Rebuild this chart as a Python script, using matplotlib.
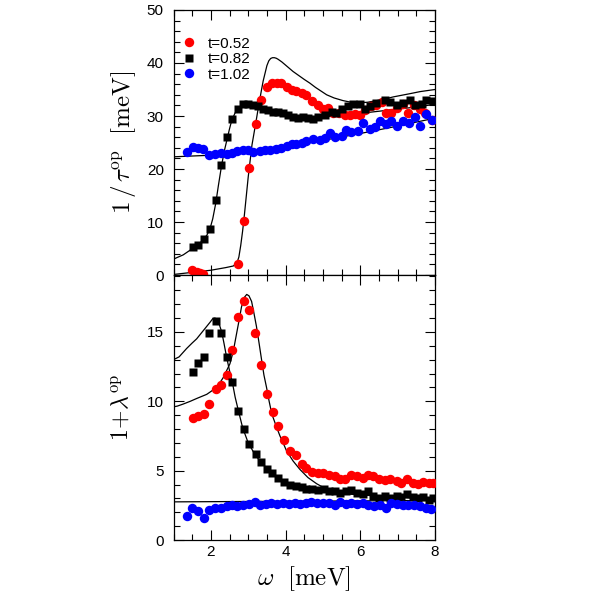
import numpy as np
import matplotlib
matplotlib.use("Agg")
import matplotlib.pyplot as plt
from matplotlib.ticker import MultipleLocator

plt.rcParams['font.family'] = ['Liberation Sans', 'DejaVu Sans']
plt.rcParams['mathtext.fontset'] = 'cm'

# ---------- donnees : panneau du haut, 1/tau^op ----------
x52_top = [1.49, 1.62, 1.72, 1.80, 2.73, 2.88, 3.03, 3.20, 3.34, 3.49, 3.63, 3.76, 3.89,
           4.03, 4.16, 4.29, 4.43, 4.56, 4.71, 4.86, 5.00, 5.14, 5.27, 5.42, 5.59, 5.72,
           5.85, 5.99, 6.12, 6.28, 6.43, 6.57, 6.70, 6.83, 6.99, 7.14, 7.28, 7.43, 7.59,
           7.74, 7.92]
y52_top = [1.0, 0.6, 0.3, 0.1, 2.0, 10.2, 20.1, 28.4, 33.1, 35.4, 36.2, 36.3, 36.3,
           35.4, 34.9, 34.8, 34.4, 34.0, 32.9, 32.0, 31.3, 31.6, 30.6, 30.6, 30.2, 30.2,
           30.3, 30.2, 31.1, 31.9, 32.1, 32.7, 30.5, 30.5, 31.6, 32.3, 30.6, 32.0, 31.3,
           30.5, 29.2]

x82_top = [1.51, 1.66, 1.82, 1.97, 2.13, 2.27, 2.44, 2.57, 2.73, 2.87, 3.00, 3.13, 3.27,
           3.40, 3.53, 3.67, 3.80, 3.94, 4.07, 4.20, 4.34, 4.47, 4.60, 4.74, 4.87, 5.05,
           5.23, 5.36, 5.50, 5.67, 5.81, 5.99, 6.12, 6.25, 6.43, 6.65, 6.79, 6.97, 7.14,
           7.32, 7.46, 7.64, 7.77, 7.95]
y82_top = [5.2, 5.6, 6.7, 8.7, 14.1, 20.7, 26.0, 29.4, 31.3, 32.2, 32.2, 32.1, 31.8,
           31.4, 31.1, 30.8, 30.8, 30.5, 30.2, 29.9, 29.7, 29.9, 29.6, 29.4, 29.9, 30.1,
           30.8, 30.5, 31.4, 31.8, 32.3, 32.3, 31.3, 31.8, 32.4, 33.1, 32.7, 32.1, 32.4,
           33.1, 32.1, 32.3, 33.0, 32.9]

x102_top = [1.35, 1.51, 1.66, 1.80, 1.96, 2.11, 2.26, 2.42, 2.56, 2.69, 2.85, 3.00, 3.13,
            3.31, 3.45, 3.58, 3.74, 3.89, 4.03, 4.16, 4.29, 4.43, 4.56, 4.74, 4.92, 5.05,
            5.18, 5.32, 5.50, 5.63, 5.76, 5.94, 6.07, 6.25, 6.39, 6.52, 6.68, 6.83, 6.98,
            7.14, 7.30, 7.46, 7.61, 7.75, 7.91]
y102_top = [23.2, 24.2, 23.9, 23.8, 22.6, 22.9, 23.1, 22.8, 23.1, 23.4, 23.5, 23.6, 23.3,
            23.4, 23.6, 23.6, 23.7, 23.9, 24.3, 24.7, 24.8, 24.9, 25.3, 25.6, 25.5, 25.8,
            26.7, 26.1, 26.2, 27.4, 27.0, 27.2, 28.7, 27.5, 27.9, 29.1, 28.5, 29.1, 28.1,
            29.1, 28.6, 29.9, 28.1, 30.3, 29.2]

# courbes theoriques (haut)
fx52_top = [1.0, 1.5, 2.0, 2.4, 2.6, 2.7, 2.75, 2.8, 2.85, 2.9, 3.0, 3.1, 3.2, 3.3, 3.4,
            3.5, 3.55, 3.6, 3.65, 3.7, 3.75, 3.8, 3.9, 4.0, 4.1, 4.2, 4.3, 4.4, 4.5, 4.65,
            4.8, 4.95, 5.1, 5.3, 5.54, 5.75, 6.0, 6.2, 6.43, 6.65, 6.88, 7.1, 7.32, 7.6, 8.0]
fy52_top = [0.1, 0.5, 0.9, 1.4, 1.7, 2.3, 3.4, 5.6, 8.3, 11.5, 18.5, 24.5, 28.6, 32.8, 36.6,
            39.5, 40.4, 40.85, 41.0, 41.0, 40.9, 40.7, 40.2, 39.6, 39.0, 38.4, 37.9, 37.4, 36.9, 36.2,
            35.4, 34.7, 34.0, 33.4, 32.9, 32.6, 32.5, 32.6, 32.9, 33.2, 33.6, 33.9, 34.2, 34.6, 35.0]

fx82_top = [1.0, 1.26, 1.51, 1.65, 1.8, 1.9, 1.98, 2.05, 2.13, 2.2, 2.29, 2.37, 2.44, 2.5,
            2.56, 2.65, 2.73, 2.85, 2.96, 3.07, 3.18, 3.35, 3.5, 3.75, 4.0, 4.25, 4.5, 4.75,
            5.0, 5.5, 6.0, 6.5, 7.0, 7.5, 8.0]
fy82_top = [3.0, 3.8, 5.0, 5.7, 6.6, 7.6, 8.8, 10.6, 13.5, 16.8, 20.8, 23.7, 25.8, 27.6,
            29.2, 30.6, 31.3, 31.9, 32.1, 32.0, 31.8, 31.4, 31.0, 30.5, 30.0, 29.7, 29.6, 29.7,
            29.8, 30.1, 30.5, 30.9, 31.3, 31.7, 32.2]

fx102_top = [1.0, 2.0, 3.0, 4.0, 5.0, 6.0, 7.0, 8.0]
fy102_top = [22.3, 22.6, 23.2, 24.2, 25.4, 26.7, 28.1, 29.6]

# ---------- donnees : panneau du bas, 1 + lambda^op ----------
x52_bot = [1.51, 1.66, 1.82, 1.96, 2.13, 2.27, 2.44, 2.57, 2.73, 2.88, 3.03, 3.18, 3.33,
           3.49, 3.66, 3.80, 3.95, 4.11, 4.28, 4.43, 4.56, 4.72, 4.87, 5.00, 5.17, 5.32,
           5.45, 5.59, 5.75, 5.90, 6.06, 6.21, 6.34, 6.50, 6.65, 6.79, 6.97, 7.10, 7.25,
           7.40, 7.55, 7.68, 7.84, 7.95]
y52_bot = [8.8, 8.96, 9.1, 9.8, 10.9, 11.2, 11.9, 13.7, 16.1, 17.2, 16.6, 14.9, 12.6,
           10.5, 9.2, 8.2, 7.2, 6.4, 6.1, 5.5, 5.2, 4.9, 4.86, 4.8, 4.7, 4.6,
           4.4, 4.4, 4.7, 4.6, 4.5, 4.7, 4.6, 4.4, 4.3, 4.4, 4.25, 4.1, 4.4,
           4.1, 4.06, 4.2, 4.1, 4.1]

x82_bot = [1.51, 1.66, 1.82, 1.96, 2.13, 2.27, 2.42, 2.57, 2.73, 2.89, 3.03, 3.20, 3.34,
           3.49, 3.65, 3.80, 3.95, 4.11, 4.28, 4.43, 4.56, 4.72, 4.87, 5.03, 5.17, 5.32,
           5.45, 5.61, 5.76, 5.90, 6.06, 6.21, 6.34, 6.50, 6.65, 6.80, 6.97, 7.10, 7.25,
           7.40, 7.55, 7.68, 7.84, 7.95]
y82_bot = [12.1, 12.75, 13.2, 14.95, 15.8, 14.95, 13.2, 11.4, 9.3, 8.0, 6.9, 6.2, 5.6,
           5.1, 4.8, 4.5, 4.2, 4.0, 3.9, 3.8, 3.7, 3.65, 3.6, 3.7, 3.5, 3.5,
           3.4, 3.5, 3.6, 3.4, 3.3, 3.5, 3.2, 3.0, 3.2, 3.0, 3.2, 3.1, 3.3,
           3.1, 3.0, 3.1, 2.9, 3.0]

x102_bot = [1.35, 1.50, 1.65, 1.82, 1.96, 2.11, 2.26, 2.42, 2.56, 2.70, 2.87, 3.03, 3.18,
            3.31, 3.47, 3.62, 3.78, 3.94, 4.10, 4.25, 4.38, 4.54, 4.69, 4.85, 5.00, 5.17,
            5.32, 5.47, 5.61, 5.76, 5.91, 6.07, 6.21, 6.36, 6.52, 6.68, 6.83, 6.98, 7.13,
            7.28, 7.43, 7.59, 7.75, 7.90]
y102_bot = [1.7, 2.3, 2.1, 1.6, 2.15, 2.3, 2.3, 2.45, 2.55, 2.45, 2.5, 2.6, 2.75,
            2.55, 2.6, 2.7, 2.6, 2.7, 2.6, 2.7, 2.6, 2.7, 2.75, 2.7, 2.7, 2.7,
            2.55, 2.75, 2.6, 2.7, 2.6, 2.7, 2.5, 2.45, 2.55, 2.3, 2.7, 2.6, 2.55,
            2.5, 2.5, 2.45, 2.3, 2.2]

# courbes theoriques (bas)
fx52_bot = [1.0, 1.1, 1.26, 1.45, 1.62, 1.89, 2.16, 2.33, 2.51, 2.6, 2.69, 2.76, 2.82, 2.9,
            2.96, 3.02, 3.09, 3.15, 3.22, 3.29, 3.36, 3.42, 3.49, 3.56, 3.63, 3.75, 3.85,
            3.95, 4.03, 4.2, 4.38, 4.6, 4.83, 5.1, 5.5, 6.0, 6.5, 7.0, 7.5, 8.0]
fy52_bot = [9.6, 9.65, 9.8, 10.0, 10.2, 10.5, 11.0, 11.7, 12.7, 13.6, 14.9, 15.9, 16.8, 17.5,
            17.7, 17.6, 17.2, 16.4, 15.4, 14.2, 12.95, 11.9, 11.0, 10.0, 9.1, 8.2, 7.5,
            6.9, 6.4, 5.7, 5.1, 4.5, 4.06, 3.65, 3.45, 3.3, 3.2, 3.1, 3.02, 2.95]

fx82_bot = [1.0, 1.15, 1.35, 1.5, 1.62, 1.8, 1.98, 2.05, 2.11, 2.17, 2.23, 2.29, 2.35, 2.42,
            2.5, 2.58, 2.65, 2.73, 2.85, 3.0, 3.15, 3.31, 3.5, 3.67, 3.85, 4.03, 4.3, 4.56,
            5.1, 5.5, 6.0, 6.5, 7.0, 7.5, 8.0]
fy82_bot = [13.0, 13.2, 13.8, 14.2, 14.5, 15.1, 15.7, 15.95, 16.0, 15.85, 15.5, 15.0, 14.2, 13.2,
            12.2, 11.3, 10.3, 9.4, 8.1, 7.0, 6.3, 5.7, 5.15, 4.7, 4.35, 4.1, 3.85, 3.65,
            3.45, 3.35, 3.25, 3.17, 3.1, 3.02, 2.95]

fx102_bot = [1.0, 4.5, 8.0]
fy102_bot = [2.75, 2.8, 2.85]

labels = ['t=0.52', 't=0.82', 't=1.02']
colors = ['#ff0000', 'black', '#0000ff']


def style_axes(ax):
    ax.tick_params(which='both', direction='in', top=True, right=True, labelsize=11)
    ax.tick_params(axis='y', which='both', pad=7)
    ax.tick_params(which='major', length=7, width=0.8)
    ax.tick_params(which='minor', length=4, width=0.8)
    for s in ax.spines.values():
        s.set_linewidth(0.9)
    ax.xaxis.set_major_locator(MultipleLocator(2))
    ax.xaxis.set_minor_locator(MultipleLocator(0.5))


fig = plt.figure(figsize=(5.95, 5.95), dpi=100)
ax1 = fig.add_axes([0.2916, 0.5378, 0.4395, 0.4454])
ax2 = fig.add_axes([0.2916, 0.0924, 0.4395, 0.4454], sharex=ax1)

# panneau du haut
for fx, fy in [(fx52_top, fy52_top), (fx82_top, fy82_top), (fx102_top, fy102_top)]:
    ax1.plot(fx, fy, color='black', lw=0.9, zorder=2)
ax1.plot(x52_top, y52_top, 'o', color=colors[0], ms=6.8, mec='none', label=labels[0], zorder=3)
ax1.plot(x82_top, y82_top, 's', color=colors[1], ms=5.2, mec='none', label=labels[1], zorder=3)
ax1.plot(x102_top, y102_top, 'o', color=colors[2], ms=6.8, mec='none', label=labels[2], zorder=3)
ax1.set_xlim(1, 8)
ax1.set_ylim(0, 50)
ax1.yaxis.set_major_locator(MultipleLocator(10))
ax1.yaxis.set_minor_locator(MultipleLocator(2))
style_axes(ax1)
ax1.tick_params(labelbottom=False)
ax1.set_ylabel(r'$1\,/\,\tau^{\mathrm{op}}\ \ [\mathrm{meV}]$', fontsize=18, labelpad=6)
ax1.legend(loc='upper left', bbox_to_anchor=(-0.005, 0.94), frameon=False, fontsize=11,
           handlelength=0.8, handletextpad=0.8, labelspacing=0.1, borderpad=0.2)

# panneau du bas
for fx, fy in [(fx52_bot, fy52_bot), (fx82_bot, fy82_bot), (fx102_bot, fy102_bot)]:
    ax2.plot(fx, fy, color='black', lw=0.9, zorder=2)
ax2.plot(x52_bot, y52_bot, 'o', color=colors[0], ms=6.8, mec='none', zorder=3)
ax2.plot(x82_bot, y82_bot, 's', color=colors[1], ms=5.2, mec='none', zorder=3)
ax2.plot(x102_bot, y102_bot, 'o', color=colors[2], ms=6.8, mec='none', zorder=3)
ax2.set_ylim(0, 19.1)
ax2.yaxis.set_major_locator(MultipleLocator(5))
ax2.yaxis.set_minor_locator(MultipleLocator(1))
style_axes(ax2)
ax2.set_ylabel(r'$1\!+\!\lambda^{\mathrm{op}}$', fontsize=17)
ax2.yaxis.set_label_coords(-0.155, 0.5)
ax2.set_xlabel(r'$\omega\ \ [\mathrm{meV}]$', fontsize=18, labelpad=4)

fig.savefig('out.png', dpi=100)
